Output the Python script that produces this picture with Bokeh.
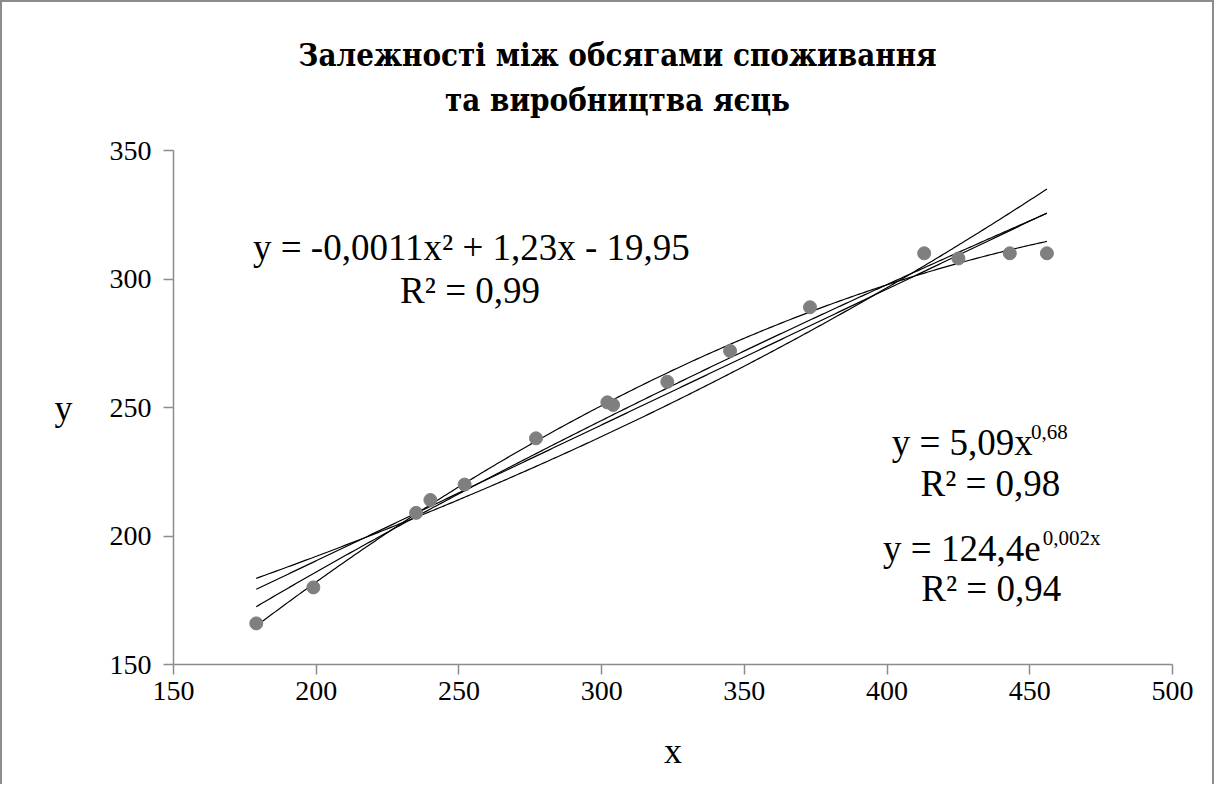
import numpy as np
from bokeh.plotting import figure
from bokeh.layouts import column
from bokeh.models import Label, Range1d, FixedTicker
from bokeh.embed import file_html
from bokeh.resources import INLINE

# ---- data ----
x_vals = [179, 199, 235, 240, 252, 277, 302, 304, 323, 345, 373, 413, 425, 443, 456]
y_vals = [166, 180, 209, 214, 220, 238, 252, 251, 260, 272, 289, 310, 308, 310, 310]
x_ticks = [150, 200, 250, 300, 350, 400, 450, 500]
y_ticks = [150, 200, 250, 300, 350]
title_lines = ["Залежності між обсягами споживання", "та виробництва яєць"]
eq_quad = "y = -0,0011x²  + 1,23x - 19,95"
r2_quad = "R² = 0,99"
eq_pow_main, eq_pow_sup = "y = 5,09x", "0,68"
r2_pow = "R² = 0,98"
eq_exp_main, eq_exp_sup = "y = 124,4e", "0,002x"
r2_exp = "R² = 0,94"

FONT = "Liberation Serif"
TITLE_FONT = "DejaVu Serif Condensed"
W = 1210
T = 130
FL, FR = 171, 40          # frame margins (left / right)
FW = W - FL - FR          # frame width

xa = np.array(x_vals, dtype=float)
ya = np.array(y_vals, dtype=float)
xs = np.linspace(xa.min(), xa.max(), 300)

# trend lines fitted to the data (as the spreadsheet does)
q = np.polyfit(xa, ya, 2)
lin = np.polyfit(xa, ya, 1)
pw = np.polyfit(np.log(xa), np.log(ya), 1)
ex = np.polyfit(xa, np.log(ya), 1)
curves = [
    np.polyval(q, xs),
    np.polyval(lin, xs),
    np.exp(pw[1]) * xs ** pw[0],
    np.exp(ex[1]) * np.exp(ex[0] * xs),
]

# ---- title strip (its frame is aligned with the chart frame by the column) ----
tf = figure(width=W, height=T, output_backend="svg", toolbar_location=None,
            x_range=Range1d(0, FW), y_range=Range1d(0, T),
            min_border_left=FL, min_border_right=FR,
            min_border_top=0, min_border_bottom=0, frame_width=FW)
tf.axis.visible = False
tf.grid.visible = False
tf.outline_line_color = None
for i, line in enumerate(title_lines):
    tf.add_layout(Label(x=615 - FL, y=T - 52 - 45 * i, text=line,
                        text_font=TITLE_FONT, text_font_size="31px",
                        text_font_style="bold",
                        text_align="center", text_baseline="middle",
                        text_color="black"))

# ---- main chart ----
p = figure(width=W, height=782 - T, output_backend="svg", toolbar_location=None,
           x_range=Range1d(150, 500), y_range=Range1d(150, 350),
           min_border_left=FL, min_border_right=FR, min_border_top=18,
           min_border_bottom=782 - T - 18 - 514, frame_width=FW, frame_height=514)
p.outline_line_color = None
p.grid.visible = False

for ax in (p.xaxis[0], p.yaxis[0]):
    ax.axis_line_color = "#8c8c8c"
    ax.axis_line_width = 1.5
    ax.major_tick_line_color = "#8c8c8c"
    ax.major_tick_line_width = 1.5
    ax.major_tick_out = 10
    ax.major_tick_in = 0
    ax.minor_tick_line_color = None
    ax.major_label_text_font = FONT
    ax.major_label_text_font_size = "28px"
    ax.major_label_text_color = "black"
    ax.axis_label_text_font = FONT
    ax.axis_label_text_font_size = "36px"
    ax.axis_label_text_font_style = "normal"
    ax.axis_label_text_color = "black"
p.xaxis.ticker = FixedTicker(ticks=x_ticks)
p.yaxis.ticker = FixedTicker(ticks=y_ticks)
p.xaxis.major_label_standoff = 7
p.yaxis.major_label_standoff = 12
p.xaxis.axis_label = "x"
p.yaxis.axis_label = "y"
p.yaxis.axis_label_orientation = "horizontal"
p.xaxis.axis_label_standoff = 28
p.yaxis.axis_label_standoff = 34

for c in curves:
    p.line(xs, c, line_color="black", line_width=1.2)

p.scatter(x_vals, y_vals, size=13, fill_color="#7f7f7f", line_color="#7f7f7f")

def lab(x, y, text, size, align="center"):
    p.add_layout(Label(x=x, y=y, text=text, text_font=FONT, text_font_size=size,
                       text_align=align, text_baseline="middle", text_color="black"))

lab(256.0, 312.3, eq_quad, "37px")
lab(253.9, 295.5, r2_quad, "37px")

lab(401.6, 236.4, eq_pow_main, "37px", align="left")
lab(450.4, 240.5, eq_pow_sup, "21px", align="left")
lab(436.2, 220.4, r2_pow, "37px")

lab(398.6, 195.1, eq_exp_main, "37px", align="left")
lab(454.5, 199.4, eq_exp_sup, "21px", align="left")
lab(436.5, 179.6, r2_exp, "37px")

layout = column(tf, p, spacing=0)
layout.styles = {"border-top": "2px solid #8c8c8c", "border-left": "2px solid #8c8c8c",
                 "border-right": "2px solid #8c8c8c", "background-color": "white"}

open("out.html", "w").write(file_html(layout, INLINE))
